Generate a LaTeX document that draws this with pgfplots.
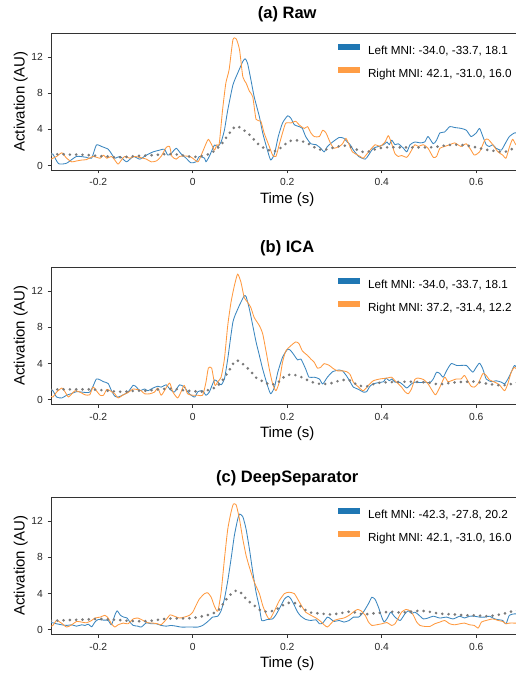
\documentclass[border=0pt]{standalone}
\usepackage{fontspec}
\setmainfont{Liberation Sans}
\usepackage{pgfplots}
\pgfplotsset{compat=1.18}
\definecolor{cblue}{HTML}{1F77B4}
\definecolor{corange}{HTML}{FF9D45}
\definecolor{lblue}{HTML}{3A86BF}
\definecolor{lorange}{HTML}{FF993F}
\definecolor{dgray}{HTML}{7A7A7A}
\definecolor{framec}{HTML}{333333}
\pgfplotsset{
 every axis title shift=0pt,
 panel/.style={
  scale only axis, width=472.5pt, height=137pt,
  xmin=-0.3, xmax=0.7, ymin=-0.5, ymax=14.65,
  axis line style={framec, line width=0.8pt},
  tick align=outside, major tick length=3.5pt,
  tick style={framec, line width=0.8pt},
  xtick pos=left, ytick pos=left,
  xtick={-0.2,0,0.2,0.4,0.6}, xticklabels={-0.2,0,0.2,0.4,0.6},
  ytick={0,4,8,12}, yticklabels={0,4,8,12},
  ticklabel style={font=\fontsize{10.3}{12}\selectfont, text=black!85, inner sep=0pt},
  xticklabel style={anchor=north, yshift=-5pt},
  yticklabel style={anchor=east, xshift=-4.5pt},
  title style={at={(axis description cs:0.5,1.137)}, anchor=center, font=\fontsize{16.5}{19}\bfseries\selectfont},
  xlabel={Time (s)}, ylabel={Activation (AU)},
  label style={font=\fontsize{15}{18}\selectfont},
  xlabel style={at={(axis description cs:0.5,-0.2153)}, anchor=center},
  ylabel style={at={(axis description cs:-0.0641,0.5)}, anchor=center},
  legend image code/.code={\fill[##1,draw=none] (0pt,0.9pt) rectangle (22pt,6.6pt);},
  legend style={draw=none, fill=none, at={(axis description cs:0.6074,0.92)}, anchor=north west,
    inner sep=0pt, outer sep=0pt, row sep=11.5pt, column sep=8pt,
    font=\fontsize{11.7}{14}\selectfont, nodes={inner sep=0pt}},
  legend cell align=left,
 },
 lline/.style={lblue, line width=0.85pt, smooth, tension=0.35, line join=round, forget plot},
 rline/.style={lorange, line width=0.85pt, smooth, tension=0.35, line join=round, forget plot},
 mline/.style={dgray, line width=2.9pt, line cap=round, dash pattern=on 0pt off 6.3pt, smooth, forget plot},
}
\begin{document}
\begin{tikzpicture}
%% ---------------- (a) Raw ----------------
\begin{axis}[panel, at={(51pt,505pt)}, anchor=south west, title={(a) Raw}]
\addlegendimage{fill=cblue}\addlegendentry{Left MNI: -34.0, -33.7, 18.1}
\addlegendimage{fill=corange}\addlegendentry{Right MNI: 42.1, -31.0, 16.0}
\addplot[lline] coordinates {(-0.3,1.3) (-0.296,1.26) (-0.284,0.2) (-0.267,0.25) (-0.246,1.0) (-0.225,0.9) (-0.214,0.8) (-0.204,2.26) (-0.193,2.1) (-0.179,1.8) (-0.172,1.3) (-0.165,0.8) (-0.154,1.0) (-0.140,0.4) (-0.126,1.0) (-0.112,0.7) (-0.098,1.15) (-0.084,1.5) (-0.070,1.7) (-0.060,1.8) (-0.053,1.15) (-0.046,1.3) (-0.035,1.9) (-0.025,1.3) (-0.014,0.8) (-0.004,0.3) (0.007,0.4) (0.014,1.0) (0.025,0.8) (0.028,0.4) (0.035,1.0) (0.046,2.26) (0.053,2.1) (0.060,2.6) (0.067,3.9) (0.074,6.1) (0.085,8.9) (0.095,10.2) (0.106,11.5) (0.111,11.8) (0.116,11.3) (0.123,9.5) (0.130,7.6) (0.141,5.4) (0.148,3.6) (0.158,1.7) (0.165,0.6) (0.173,1.3) (0.181,3.2) (0.190,4.7) (0.201,5.5) (0.208,5.2) (0.215,4.5) (0.225,4.3) (0.232,4.1) (0.239,3.2) (0.250,2.4) (0.261,2.3) (0.271,1.9) (0.278,1.5) (0.285,2.1) (0.296,2.6) (0.310,3.1) (0.320,3.0) (0.327,2.6) (0.333,2.3) (0.340,1.7) (0.351,1.0) (0.365,0.7) (0.372,1.15) (0.382,1.9) (0.393,2.1) (0.404,2.3) (0.411,2.6) (0.416,2.3) (0.421,2.8) (0.428,2.3) (0.435,2.4) (0.446,1.9) (0.453,1.5) (0.460,2.3) (0.470,2.6) (0.481,2.5) (0.491,2.6) (0.498,3.2) (0.509,2.4) (0.516,2.8) (0.523,3.6) (0.533,3.7) (0.544,4.3) (0.554,4.2) (0.568,4.1) (0.579,3.9) (0.589,3.2) (0.600,3.6) (0.607,4.1) (0.614,3.2) (0.621,2.3) (0.628,2.1) (0.635,2.3) (0.642,1.9) (0.653,1.7) (0.660,2.3) (0.670,3.2) (0.681,3.6) (0.688,3.6) (0.7,3.4)};
\addplot[rline] coordinates {(-0.3,0.7) (-0.296,0.8) (-0.288,1.0) (-0.277,1.4) (-0.267,0.8) (-0.256,0.4) (-0.246,0.5) (-0.235,0.6) (-0.225,0.65) (-0.211,1.0) (-0.196,0.8) (-0.189,1.15) (-0.182,0.8) (-0.172,1.0) (-0.165,0.6) (-0.158,0.15) (-0.151,0.6) (-0.144,1.0) (-0.133,0.8) (-0.123,1.0) (-0.109,0.85) (-0.098,0.7) (-0.088,0.4) (-0.077,0.5) (-0.067,1.0) (-0.056,2.0) (-0.049,2.1) (-0.044,1.0) (-0.035,0.7) (-0.028,1.0) (-0.018,1.05) (-0.007,1.0) (0.000,0.8) (0.011,0.4) (0.018,1.15) (0.028,2.4) (0.033,2.9) (0.039,2.4) (0.046,1.7) (0.051,2.3) (0.056,2.4) (0.063,6.1) (0.070,9.1) (0.077,10.6) (0.085,13.9) (0.092,14.0) (0.099,12.8) (0.106,9.8) (0.113,9.1) (0.120,8.2) (0.127,7.6) (0.134,5.1) (0.144,4.9) (0.151,3.6) (0.162,2.1) (0.169,1.15) (0.176,1.0) (0.183,2.3) (0.190,3.6) (0.197,4.7) (0.208,4.7) (0.218,4.9) (0.225,4.5) (0.236,4.1) (0.243,4.3) (0.250,3.6) (0.257,3.2) (0.268,3.2) (0.275,3.9) (0.282,3.6) (0.292,2.4) (0.299,1.9) (0.310,2.1) (0.317,2.4) (0.324,3.0) (0.331,2.3) (0.338,1.5) (0.349,1.15) (0.356,0.95) (0.361,0.8) (0.372,1.5) (0.386,2.3) (0.396,2.1) (0.407,2.6) (0.414,3.3) (0.421,2.4) (0.428,1.3) (0.435,1.0) (0.442,1.1) (0.453,0.9) (0.460,1.4) (0.470,2.3) (0.477,2.1) (0.488,2.3) (0.498,1.9) (0.509,0.9) (0.516,1.0) (0.523,1.9) (0.533,2.1) (0.544,2.3) (0.554,2.5) (0.561,2.3) (0.568,2.1) (0.579,2.4) (0.589,1.7) (0.596,1.15) (0.607,1.5) (0.618,2.8) (0.625,2.9) (0.635,2.3) (0.646,1.5) (0.656,1.15) (0.663,0.8) (0.670,2.0) (0.677,2.9) (0.684,2.3) (0.7,2.0)};
\addplot[mline] coordinates {(-0.3,1.2) (-0.28,1.25) (-0.26,1.2) (-0.24,1.2) (-0.22,1.15) (-0.2,1.05) (-0.18,1.0) (-0.16,0.9) (-0.14,0.95) (-0.12,1.05) (-0.1,1.1) (-0.08,1.15) (-0.06,1.25) (-0.04,1.25) (-0.02,1.1) (0,0.95) (0.02,1.05) (0.04,1.4) (0.06,2.3) (0.075,3.4) (0.09,4.3) (0.1,4.2) (0.12,3.4) (0.14,2.3) (0.16,1.7) (0.175,1.6) (0.19,2.1) (0.205,2.7) (0.225,2.75) (0.245,2.4) (0.265,1.8) (0.28,1.75) (0.3,2.0) (0.32,2.2) (0.34,1.95) (0.355,1.55) (0.37,1.5) (0.39,1.85) (0.41,2.0) (0.45,2.0) (0.5,2.0) (0.52,2.1) (0.55,2.3) (0.58,2.2) (0.6,2.0) (0.62,1.75) (0.64,1.6) (0.66,1.5) (0.68,1.9) (0.7,2.1)};
\end{axis}
%% ---------------- (b) ICA ----------------
\begin{axis}[panel, at={(51pt,270.7pt)}, anchor=south west, title={(b) ICA}]
\addlegendimage{fill=cblue}\addlegendentry{Left MNI: -34.0, -33.7, 18.1}
\addlegendimage{fill=corange}\addlegendentry{Right MNI: 37.2, -31.4, 12.2}
\addplot[lline] coordinates {(-0.3,1.1) (-0.296,1.0) (-0.288,0.3) (-0.277,0.2) (-0.267,0.5) (-0.256,0.7) (-0.246,0.9) (-0.235,0.85) (-0.225,0.8) (-0.218,0.85) (-0.211,1.5) (-0.204,2.3) (-0.196,2.2) (-0.189,2.0) (-0.179,1.8) (-0.172,1.0) (-0.165,0.4) (-0.158,0.3) (-0.147,0.55) (-0.137,0.85) (-0.126,1.6) (-0.119,1.4) (-0.112,1.0) (-0.102,1.2) (-0.095,1.0) (-0.084,1.3) (-0.074,1.5) (-0.067,1.4) (-0.056,1.65) (-0.049,1.2) (-0.039,0.85) (-0.028,1.65) (-0.018,1.4) (-0.007,0.65) (0.004,0.3) (0.011,0.9) (0.021,1.0) (0.028,0.5) (0.035,0.85) (0.046,2.2) (0.053,1.95) (0.060,1.65) (0.067,2.3) (0.074,4.5) (0.085,8.6) (0.095,10.0) (0.102,10.8) (0.109,11.5) (0.113,11.4) (0.120,10.0) (0.127,8.2) (0.134,6.4) (0.141,4.9) (0.148,3.4) (0.158,1.6) (0.165,0.66) (0.173,1.4) (0.180,3.05) (0.190,4.7) (0.201,5.6) (0.208,5.4) (0.215,4.9) (0.222,4.4) (0.229,4.5) (0.239,3.4) (0.246,2.5) (0.257,2.5) (0.268,2.3) (0.275,1.75) (0.285,2.5) (0.296,3.1) (0.310,3.3) (0.317,3.2) (0.326,2.6) (0.333,2.0) (0.340,1.4) (0.351,1.15) (0.361,0.85) (0.368,0.9) (0.375,1.5) (0.382,1.76) (0.393,1.9) (0.404,2.0) (0.409,2.4) (0.416,2.1) (0.421,2.3) (0.428,1.95) (0.439,1.9) (0.446,1.6) (0.453,1.3) (0.463,1.76) (0.470,1.95) (0.481,1.9) (0.491,1.95) (0.502,1.9) (0.509,2.3) (0.516,3.05) (0.523,2.9) (0.530,2.5) (0.537,3.2) (0.547,4.0) (0.558,3.8) (0.568,3.8) (0.579,3.8) (0.586,3.4) (0.593,3.05) (0.600,3.6) (0.607,4.05) (0.614,3.4) (0.621,2.3) (0.632,2.0) (0.642,2.1) (0.653,1.95) (0.660,1.76) (0.667,2.3) (0.674,3.05) (0.681,3.8) (0.688,3.4) (0.7,3.2)};
\addplot[rline] coordinates {(-0.3,0.4) (-0.296,0.3) (-0.288,0.85) (-0.277,1.3) (-0.270,0.85) (-0.263,0.3) (-0.256,0.66) (-0.249,1.0) (-0.239,0.85) (-0.228,0.55) (-0.218,0.55) (-0.211,1.4) (-0.204,1.0) (-0.196,0.5) (-0.189,0.5) (-0.182,1.15) (-0.175,1.0) (-0.165,0.66) (-0.158,0.2) (-0.147,0.55) (-0.137,0.8) (-0.126,1.2) (-0.119,1.15) (-0.109,1.0) (-0.102,0.66) (-0.091,0.66) (-0.081,0.85) (-0.074,1.3) (-0.067,0.5) (-0.060,1.0) (-0.049,1.85) (-0.042,0.85) (-0.032,0.2) (-0.025,0.85) (-0.018,1.6) (-0.011,0.66) (0.000,0.5) (0.011,0.5) (0.021,0.5) (0.028,1.95) (0.033,3.5) (0.040,3.5) (0.047,1.6) (0.053,2.0) (0.060,2.5) (0.067,4.5) (0.074,8.2) (0.081,10.8) (0.088,12.6) (0.095,13.9) (0.102,13.0) (0.109,11.3) (0.116,10.8) (0.123,10.2) (0.130,9.1) (0.141,8.2) (0.148,7.3) (0.155,5.4) (0.162,3.4) (0.169,1.76) (0.176,1.0) (0.183,1.95) (0.190,4.15) (0.197,5.4) (0.208,6.0) (0.218,6.4) (0.225,6.2) (0.232,5.4) (0.243,4.9) (0.250,4.5) (0.257,4.15) (0.264,3.5) (0.271,3.6) (0.278,4.0) (0.289,3.8) (0.296,3.5) (0.306,3.2) (0.317,3.2) (0.326,3.1) (0.333,2.8) (0.340,1.95) (0.351,1.4) (0.361,1.0) (0.372,1.6) (0.382,2.1) (0.396,2.3) (0.411,2.4) (0.421,2.5) (0.428,2.1) (0.435,1.76) (0.442,1.4) (0.449,0.9) (0.456,0.66) (0.463,1.2) (0.470,2.25) (0.477,2.4) (0.488,2.25) (0.498,1.76) (0.507,1.0) (0.514,0.55) (0.523,1.4) (0.533,2.5) (0.540,2.0) (0.547,2.1) (0.558,2.3) (0.568,2.3) (0.575,2.7) (0.582,2.1) (0.589,1.5) (0.596,1.4) (0.604,1.8) (0.614,2.9) (0.621,2.7) (0.628,2.2) (0.639,1.95) (0.649,1.65) (0.660,1.0) (0.667,1.8) (0.674,3.05) (0.681,3.6) (0.688,3.2) (0.7,2.8)};
\addplot[mline] coordinates {(-0.3,1.1) (-0.28,1.15) (-0.25,1.15) (-0.22,1.15) (-0.2,1.1) (-0.18,1.0) (-0.16,0.9) (-0.14,0.9) (-0.12,1.0) (-0.1,1.0) (-0.08,1.1) (-0.06,1.2) (-0.04,1.2) (-0.02,1.05) (0,0.95) (0.02,0.9) (0.04,1.2) (0.05,1.4) (0.065,2.3) (0.08,3.5) (0.09,4.3) (0.1,4.2) (0.12,3.3) (0.135,2.4) (0.15,2.0) (0.165,1.65) (0.18,1.9) (0.195,2.6) (0.21,2.8) (0.23,2.5) (0.25,2.0) (0.27,1.75) (0.29,1.8) (0.31,2.1) (0.33,2.2) (0.35,1.6) (0.37,1.5) (0.39,1.85) (0.42,1.95) (0.46,2.0) (0.5,1.9) (0.52,1.7) (0.55,1.9) (0.58,2.0) (0.6,2.0) (0.62,1.8) (0.65,1.6) (0.67,1.7) (0.7,2.1)};
\end{axis}
%% ---------------- (c) DeepSeparator ----------------
\begin{axis}[panel, at={(51pt,40.7pt)}, anchor=south west, title={(c) DeepSeparator}]
\addlegendimage{fill=cblue}\addlegendentry{Left MNI: -42.3, -27.8, 20.2}
\addlegendimage{fill=corange}\addlegendentry{Right MNI: 42.1, -31.0, 16.0}
\addplot[lline] coordinates {(-0.3,0.8) (-0.296,0.77) (-0.288,0.66) (-0.277,0.55) (-0.267,0.48) (-0.256,0.55) (-0.246,0.4) (-0.235,0.55) (-0.228,0.48) (-0.221,0.62) (-0.214,0.33) (-0.207,0.85) (-0.200,1.14) (-0.189,1.07) (-0.179,1.03) (-0.172,0.55) (-0.165,1.6) (-0.160,2.1) (-0.153,1.6) (-0.146,1.4) (-0.139,1.3) (-0.133,0.85) (-0.126,0.48) (-0.116,0.4) (-0.109,0.3) (-0.098,0.77) (-0.088,0.66) (-0.077,0.66) (-0.067,0.48) (-0.056,0.4) (-0.046,0.48) (-0.035,0.4) (-0.025,0.3) (-0.014,0.3) (0.000,0.3) (0.011,0.3) (0.021,0.48) (0.032,0.92) (0.042,1.4) (0.053,1.5) (0.060,2.1) (0.067,3.4) (0.074,5.4) (0.081,7.8) (0.088,10.4) (0.095,12.2) (0.099,12.8) (0.106,12.5) (0.113,11.1) (0.120,8.9) (0.127,6.4) (0.134,4.15) (0.141,2.5) (0.146,1.03) (0.158,1.14) (0.169,1.2) (0.176,1.65) (0.183,2.3) (0.194,3.4) (0.202,3.7) (0.208,3.4) (0.215,2.7) (0.222,1.95) (0.229,1.5) (0.239,1.14) (0.250,1.03) (0.261,1.1) (0.268,0.66) (0.275,0.74) (0.285,1.4) (0.292,1.2) (0.299,0.92) (0.310,1.03) (0.320,0.85) (0.331,1.03) (0.340,1.4) (0.351,1.4) (0.361,1.95) (0.372,2.9) (0.379,3.6) (0.386,3.35) (0.393,2.5) (0.400,1.4) (0.405,0.85) (0.412,1.3) (0.419,1.95) (0.428,1.4) (0.439,1.03) (0.449,1.76) (0.456,2.1) (0.463,1.8) (0.470,1.95) (0.477,1.7) (0.488,1.2) (0.498,1.3) (0.509,1.5) (0.523,1.3) (0.537,1.4) (0.551,1.2) (0.565,1.5) (0.575,1.3) (0.586,1.5) (0.596,1.5) (0.607,1.4) (0.618,1.4) (0.628,1.5) (0.639,1.2) (0.649,1.1) (0.656,1.03) (0.663,0.66) (0.670,1.6) (0.681,1.76) (0.688,1.76) (0.7,1.8)};
\addplot[rline] coordinates {(-0.3,0.4) (-0.296,0.48) (-0.288,1.03) (-0.277,0.7) (-0.267,0.3) (-0.256,0.55) (-0.246,0.92) (-0.235,0.85) (-0.225,0.77) (-0.214,1.03) (-0.207,1.3) (-0.196,1.4) (-0.186,1.6) (-0.179,1.3) (-0.172,0.66) (-0.165,0.3) (-0.158,0.55) (-0.147,0.74) (-0.137,0.66) (-0.126,1.2) (-0.116,1.3) (-0.105,1.03) (-0.095,0.77) (-0.084,0.74) (-0.074,0.66) (-0.067,0.55) (-0.056,1.14) (-0.048,1.65) (-0.039,1.5) (-0.028,1.3) (-0.018,1.4) (-0.007,1.6) (0.000,1.95) (0.007,2.7) (0.014,3.4) (0.025,4.0) (0.032,4.08) (0.039,3.6) (0.046,2.6) (0.053,2.05) (0.060,4.15) (0.067,7.8) (0.074,11.1) (0.081,13.0) (0.086,13.9) (0.092,13.8) (0.099,12.2) (0.106,10.0) (0.113,8.2) (0.120,6.9) (0.130,5.3) (0.141,4.0) (0.148,2.7) (0.155,1.76) (0.161,1.2) (0.165,1.3) (0.173,2.1) (0.183,3.2) (0.194,4.0) (0.204,4.15) (0.215,4.0) (0.222,3.4) (0.232,2.5) (0.239,1.95) (0.250,1.6) (0.261,1.3) (0.271,0.92) (0.278,0.55) (0.285,0.3) (0.292,0.66) (0.299,1.03) (0.310,1.2) (0.320,1.3) (0.331,1.6) (0.342,2.05) (0.349,2.25) (0.356,2.1) (0.365,1.6) (0.372,0.85) (0.379,0.48) (0.389,0.55) (0.400,0.66) (0.411,0.8) (0.421,0.48) (0.428,0.66) (0.435,1.3) (0.442,1.95) (0.451,2.25) (0.460,2.1) (0.467,1.6) (0.474,0.85) (0.481,0.48) (0.491,0.37) (0.502,0.37) (0.512,0.66) (0.523,0.85) (0.533,1.03) (0.544,0.66) (0.554,0.55) (0.565,0.66) (0.575,0.74) (0.586,0.55) (0.596,0.48) (0.604,0.18) (0.611,0.85) (0.621,1.03) (0.635,1.2) (0.646,1.03) (0.656,0.92) (0.663,0.66) (0.670,0.74) (0.681,0.74) (0.7,0.74)};
\addplot[mline] coordinates {(-0.3,1.0) (-0.27,1.05) (-0.25,1.1) (-0.22,1.15) (-0.2,1.2) (-0.18,1.15) (-0.16,1.1) (-0.14,1.0) (-0.12,0.95) (-0.1,0.95) (-0.08,1.05) (-0.06,1.2) (-0.04,1.25) (-0.02,1.25) (0,1.3) (0.02,1.5) (0.04,1.75) (0.055,2.2) (0.07,3.3) (0.08,3.9) (0.09,4.3) (0.1,4.2) (0.115,3.3) (0.13,2.7) (0.145,2.1) (0.16,2.0) (0.175,2.2) (0.19,2.7) (0.205,3.0) (0.22,2.9) (0.235,2.3) (0.25,1.9) (0.27,1.8) (0.29,1.7) (0.31,1.8) (0.33,2.0) (0.345,1.9) (0.36,1.7) (0.38,1.8) (0.4,1.9) (0.42,2.0) (0.44,1.9) (0.46,2.0) (0.48,2.1) (0.5,2.0) (0.52,1.8) (0.55,1.7) (0.58,1.6) (0.6,1.6) (0.62,1.5) (0.64,1.6) (0.66,1.8) (0.68,2.1) (0.7,2.2)};
\end{axis}
\pgfresetboundingbox
\useasboundingbox (0pt,0pt) rectangle (515pt,675pt);
\end{tikzpicture}
\end{document}
